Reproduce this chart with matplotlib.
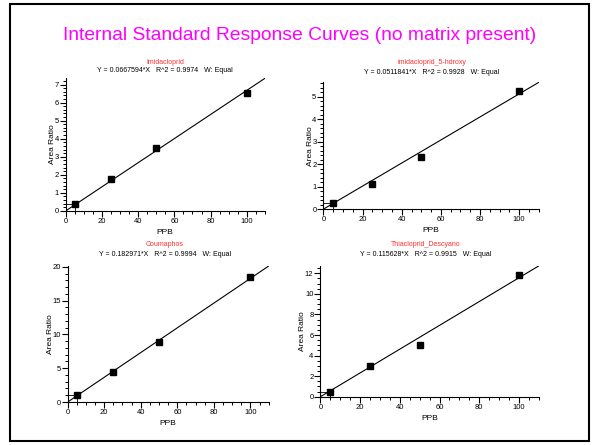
import numpy as np
import matplotlib
matplotlib.use("Agg")
import matplotlib.pyplot as plt
from matplotlib.patches import Rectangle
from matplotlib.ticker import MultipleLocator

plt.rcParams['font.family'] = ['Liberation Sans', 'DejaVu Sans']

# data
ppb = [5, 25, 50, 100]
names = ["Imidacloprid", "imidacloprid_5-hdroxy", "Coumaphos", "Thiacloprid_Descyano"]
slopes = [0.0667594, 0.0511841, 0.182971, 0.115628]
r2 = ["0.9974", "0.9928", "0.9994", "0.9915"]
imid = [0.39, 1.77, 3.48, 6.54]
imid_5oh = [0.28, 1.12, 2.31, 5.24]
coumaphos = [1.04, 4.42, 8.83, 18.46]
thia = [0.45, 2.98, 5.02, 11.81]
ratios = [imid, imid_5oh, coumaphos, thia]

y_major = [1, 1, 5, 2]
y_minor = [0.2, 0.2, 1, 0.5]

# axes boxes, figure fractions
rects = [[0.1095, 0.526, 0.332, 0.298],
         [0.539, 0.530, 0.359, 0.285],
         [0.1128, 0.0966, 0.335, 0.3056],
         [0.534, 0.1085, 0.364, 0.294]]
# header text positions in pixels (x centre, title y, equation y)
head_x = [165, 432, 165, 426]
title_y = [62, 63, 245, 245]
eq_y = [70, 72.5, 255, 255]

W, H = 600, 445
fig = plt.figure(figsize=(6, 4.45), dpi=100)
fig.patches.append(Rectangle((10 / W, 4 / H), 579 / W, 437 / H,
                             transform=fig.transFigure, fill=False,
                             edgecolor='black', linewidth=1.5))
fig.text(0.5, 1 - 35 / H, "Internal Standard Response Curves (no matrix present)",
         color='#ff00ff', fontsize=13.9, ha='center', va='center')

for i in range(4):
    ax = fig.add_axes(rects[i])
    xmax = 110
    ymax = slopes[i] * xmax
    xs = np.array([0, xmax])
    ax.plot(xs, slopes[i] * xs, color='black', linewidth=0.8)
    ax.plot(ppb, ratios[i], 's', color='black', markersize=4.3)
    # bracket at the lowest standard
    ax.plot([0, ppb[0], ppb[0]], [ratios[i][0], ratios[i][0], 0],
            color='black', linewidth=0.6)
    ax.set_xlim(0, xmax)
    ax.set_ylim(0, ymax)
    ax.spines['top'].set_visible(False)
    ax.spines['right'].set_visible(False)
    ax.spines['left'].set_linewidth(0.8)
    ax.spines['bottom'].set_linewidth(0.8)
    ax.xaxis.set_major_locator(MultipleLocator(20))
    ax.xaxis.set_minor_locator(MultipleLocator(5))
    ax.yaxis.set_major_locator(MultipleLocator(y_major[i]))
    ax.yaxis.set_minor_locator(MultipleLocator(y_minor[i]))
    ax.tick_params(which='major', direction='out', length=4, width=0.8,
                   labelsize=5.5, pad=1)
    ax.tick_params(which='minor', direction='out', length=2.5, width=0.7)
    ax.set_xlabel("PPB", fontsize=6, labelpad=3)
    ax.set_ylabel("Area Ratio", fontsize=6, labelpad=-1)
    fig.text(head_x[i] / W, 1 - title_y[i] / H, names[i], color='#ff3030',
             fontsize=5, ha='center', va='center')
    fig.text(head_x[i] / W, 1 - eq_y[i] / H,
             "Y = %g*X   R^2 = %s   W: Equal" % (slopes[i], r2[i]),
             fontsize=5, ha='center', va='center')

fig.savefig("out.png", dpi=100)
